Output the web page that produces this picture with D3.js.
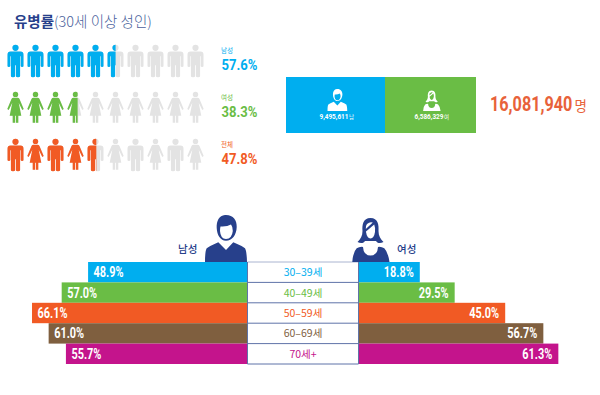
<!DOCTYPE html>
<html>
<head>
<meta charset="utf-8">
<title>유병률</title>
<style>
	html, body { margin: 0; padding: 0; background: #fff; }
	text { font-family: "Noto Sans CJK KR", sans-serif; }
	.num { font-family: "Roboto", sans-serif; font-weight: 700; }
</style>
</head>
<body>
<script src="https://cdn.jsdelivr.net/npm/d3@7/dist/d3.min.js"></script>
<script>
	// 유병률 (person rows)
	var prevLabels = ["남성", "여성", "전체"];
	var prevValues = [57.6, 38.3, 47.8];
	var prevColors = ["#00aeef", "#6abd45", "#f15a24"];
	var prevIcons = ["mmmmmmmmmm", "ffffffffff", "mfmfmfmfmf"];

	// 환자 수
	var countLabels = ["남", "여"];
	var countValues = ["9,495,611", "6,586,329"];
	var countKinds = ["m", "f"];
	var countColors = ["#00aeef", "#6abd45"];
	var totalCount = "16,081,940";

	// 연령별
	var ages = ["30–39세", "40–49세", "50–59세", "60–69세", "70세+"];
	var maleValues = [48.9, 57.0, 66.1, 61.0, 55.7];
	var femaleValues = [18.8, 29.5, 45.0, 56.7, 61.3];
	var ageColors = ["#00aeef", "#6abd45", "#f15a24", "#7f5f3f", "#c4148c"];

	var navy = "#27408b";
	var grey = "#e3e3e3";

	var svg = d3.select("body").append("svg")
		.attr("width", 600)
		.attr("height", 395)
		.style("display", "block");

	// condensed numbers: no narrow font here, so scale down to the measured width
	function numText(parent, str, x, y, size, w, fill) {
		var t = parent.append("text")
			.attr("class", "num")
			.attr("font-size", size)
			.attr("fill", fill)
			.text(str);
		var sx = w / t.node().getComputedTextLength();
		t.attr("transform", "translate(" + x + "," + y + ") scale(" + sx + ",1)");
		return t;
	}

	// icon shapes, 16 x 33 box
	var manPath = "M3,6.8 H13 Q16,6.8 16,10 V21.3 Q16,22.3 14.6,22.3 Q13.2,22.3 13.2,21.3 V11.5 H12.6 V31.5 Q12.6,32.6 10.5,32.6 Q8.4,32.6 8.4,31.5 V20.5 H7.6 V31.5 Q7.6,32.6 5.5,32.6 Q3.4,32.6 3.4,31.5 V11.5 H2.8 V21.3 Q2.8,22.3 1.4,22.3 Q0,22.3 0,21.3 V10 Q0,6.8 3,6.8 Z";
	var womanPath = "M6,6 H10 Q11.4,6 12,7.4 L16.2,17.4 L14.8,18.2 L11.2,11 L13.8,24 H10.8 V31 H8.4 V24 H7.6 V31 H5.2 V24 H2.2 L4.8,11 L1.2,18.2 L-0.2,17.4 L4,7.4 Q4.6,6 6,6 Z";

	function person(sel, kind, fill) {
		sel.append("circle")
			.attr("cx", 8).attr("cy", kind == "m" ? 3.1 : 2.7)
			.attr("r", kind == "m" ? 3.1 : 2.7)
			.attr("fill", fill);
		sel.append("path")
			.attr("d", kind == "m" ? manPath : womanPath)
			.attr("fill", fill);
	}

	var iconX = d3.scalePoint().domain(d3.range(10)).range([7.5, 187.5]);
	var iconY = d3.scalePoint().domain(prevLabels).range([44.7, 138.7]);
	var pctX = d3.scaleLinear().domain([0, 100]).range([2.3, 199]);

	var defs = svg.append("defs");
	prevLabels.forEach(function (label, r) {
		defs.append("clipPath").attr("id", "clip" + r)
			.append("rect")
			.attr("x", 0).attr("y", 0)
			.attr("width", pctX(prevValues[r]))
			.attr("height", 395);

		var layers = [{ fill: grey, clip: null }, { fill: prevColors[r], clip: "url(#clip" + r + ")" }];
		layers.forEach(function (layer) {
			var g = svg.append("g").attr("clip-path", layer.clip);
			d3.range(10).forEach(function (i) {
				var one = g.append("g")
					.attr("transform", "translate(" + iconX(i) + "," + iconY(label) + ")");
				person(one, prevIcons[r][i], layer.fill);
			});
		});

		svg.append("text")
			.attr("x", 221).attr("y", iconY(label) + 8.5)
			.attr("font-size", 6.5)
			.attr("fill", prevColors[r])
			.text(label);
		numText(svg, prevValues[r].toFixed(1) + "%", 221.5, iconY(label) + 25, 15.5, 36, prevColors[r]);
	});

	// title
	var title = svg.append("text").attr("x", 14).attr("y", 27).attr("font-size", 14.5);
	title.append("tspan").attr("font-weight", 700).attr("fill", navy).text("유병률");
	title.append("tspan").attr("font-weight", 300).attr("fill", "#4a5f9c").text("(30세 이상 성인)");

	// bust icons, 42 x 48 box
	function bust(sel, kind, fg, bg) {
		if (kind == "m") {
			sel.append("path").attr("fill", fg)
				.attr("d", "M0,48 Q0,37 1.7,34.3 Q3,33 13.3,28.3 L21,36 L28.3,28.3 Q39,33 40,34.3 Q41.7,37 42,48 Z");
			sel.append("path").attr("fill", fg)
				.attr("d", "M20,1 C28,0.5 32,6 31.7,13 C31.5,21 27,26.8 21,26.8 C15.5,26.8 12,21 11.7,14 C11.4,7 14,1.5 20,1 Z");
			sel.append("path").attr("fill", bg)
				.attr("d", "M15.5,12.5 Q22,13 26,10.5 Q28,13 27.8,17 Q27,24.8 21,25 Q15.5,24.8 15,17 Q15,14 15.5,12.5 Z");
		} else {
			sel.append("path").attr("fill", fg)
				.attr("d", "M1.3,48 Q2,38 5.7,34.3 Q8,32.8 10.7,32.7 L12,33 Q12.5,41.5 19.5,41.5 Q26.5,41.5 27,33 L28.3,32.7 Q31,32.8 33.3,34.3 Q37,38 38.5,48 Z");
			sel.append("path").attr("fill", fg)
				.attr("d", "M19.5,4 C27,4 28,11 27.5,17 C27.5,22 29.5,25 32.5,28 C29,30 26,29 25,27 L14,27 C13,29 10,30 6.5,28 C9.5,25 11.5,22 11.5,17 C11,11 12,4 19.5,4 Z");
			sel.append("path").attr("fill", bg)
				.attr("d", "M23.2,10.5 Q24.6,14 24,18 Q23,24.3 19.5,24.5 Q16,24.3 15,18 L15,17.5 Z");
			sel.append("path").attr("fill", bg)
				.attr("d", "M16,10 Q19,7.3 21.8,8.6 L14.8,15 Q14.4,12 16,10 Z");
		}
	}

	// count boxes
	var boxX = d3.scaleOrdinal().domain(countKinds).range([286, 385]);
	var boxW = d3.scaleOrdinal().domain(countKinds).range([99, 91]);
	countKinds.forEach(function (k, i) {
		svg.append("rect")
			.attr("x", boxX(k)).attr("y", 77)
			.attr("width", boxW(k)).attr("height", 56)
			.attr("fill", countColors[i]);
		var cx = boxX(k) + boxW(k) / 2 + 2;
		bust(svg.append("g")
			.attr("transform", "translate(" + (cx - 10) + ",88.5) scale(0.47)"), k, "#fff", countColors[i]);
		numText(svg, countValues[i], cx - 18, 118.5, 7.5, 29, "#fff");
		svg.append("text")
			.attr("x", cx + 11.5).attr("y", 118.5)
			.attr("font-size", 5.5)
			.attr("fill", "#fff")
			.text(countLabels[i]);
	});

	numText(svg, totalCount, 490, 111, 20.5, 82.5, "#e8623a");
	svg.append("text")
		.attr("x", 574.5).attr("y", 110.5)
		.attr("font-size", 13.5)
		.attr("fill", "#e8623a")
		.text("명");

	// pyramid
	var y = d3.scaleBand().domain(ages).range([262, 364]);
	var maleX = d3.scaleLinear().domain([0, 70]).range([247.5, 19.3]);
	var femaleX = d3.scaleLinear().domain([0, 70]).range([358.5, 586.7]);

	svg.append("g").selectAll("rect")
		.data(ages).enter().append("rect")
		.attr("x", function (d, i) { return maleX(maleValues[i]); })
		.attr("y", function (d) { return y(d); })
		.attr("width", function (d, i) { return maleX(0) - maleX(maleValues[i]); })
		.attr("height", y.bandwidth())
		.attr("fill", function (d, i) { return ageColors[i]; });

	svg.append("g").selectAll("rect")
		.data(ages).enter().append("rect")
		.attr("x", femaleX(0))
		.attr("y", function (d) { return y(d); })
		.attr("width", function (d, i) { return femaleX(femaleValues[i]) - femaleX(0); })
		.attr("height", y.bandwidth())
		.attr("fill", function (d, i) { return ageColors[i]; });

	ages.forEach(function (d, i) {
		var ty = y(d) + y.bandwidth() / 2 + 5;
		numText(svg, maleValues[i].toFixed(1) + "%", maleX(maleValues[i]) + 5.5, ty, 14, 30, "#fff");
		numText(svg, femaleValues[i].toFixed(1) + "%", femaleX(femaleValues[i]) - 36, ty, 14, 30, "#fff");
	});

	// centre column
	var lines = svg.append("g");
	ages.concat(["end"]).forEach(function (d, i) {
		var ly = i < ages.length ? y(d) : y.range()[1];
		lines.append("line")
			.attr("x1", 247.5).attr("x2", 358.5)
			.attr("y1", ly).attr("y2", ly)
			.attr("stroke", i == 0 ? "#aab4d0" : "#5f73a8")
			.attr("stroke-width", 1);
	});
	lines.append("line").attr("x1", 247.5).attr("x2", 247.5).attr("y1", 262).attr("y2", 364).attr("stroke", "#5f73a8");
	lines.append("line").attr("x1", 358.5).attr("x2", 358.5).attr("y1", 262).attr("y2", 364).attr("stroke", "#5f73a8");

	svg.append("g").selectAll("text")
		.data(ages).enter().append("text")
		.attr("x", 303)
		.attr("y", function (d) { return y(d) + y.bandwidth() / 2 + 4; })
		.attr("text-anchor", "middle")
		.attr("font-size", 10.5)
		.attr("fill", function (d, i) { return ageColors[i]; })
		.text(function (d) { return d; });

	// man / woman
	bust(svg.append("g").attr("transform", "translate(205,214)"), "m", navy, "#fff");
	bust(svg.append("g").attr("transform", "translate(351,214)"), "f", navy, "#fff");
	svg.append("text").attr("x", 178).attr("y", 253).attr("font-size", 10.5).attr("font-weight", 500).attr("fill", navy).text("남성");
	svg.append("text").attr("x", 397).attr("y", 253).attr("font-size", 10.5).attr("font-weight", 500).attr("fill", navy).text("여성");
</script>
</body>
</html>
